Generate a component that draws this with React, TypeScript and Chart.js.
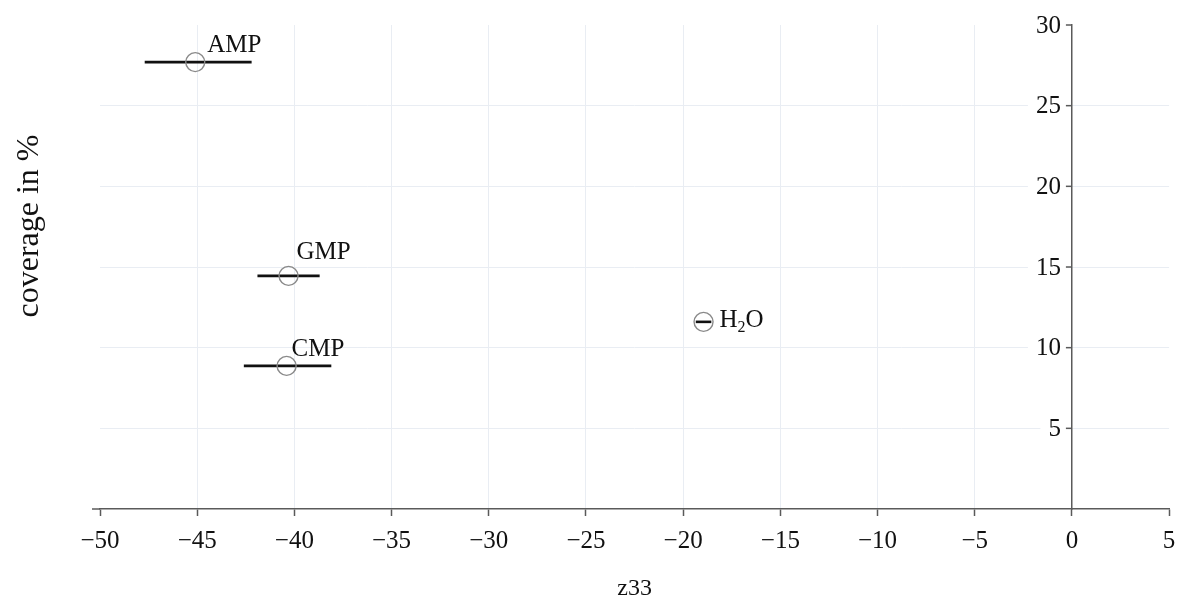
import { useEffect, useRef } from "react";
import { Chart, registerables } from "chart.js";

Chart.register(...registerables);

// Adsorbate, z33 (circle) with its lower/upper range, and surface coverage
const compounds = ["AMP", "GMP", "CMP", "H2O"];
const z33Values = [-45.1, -40.3, -40.4, -18.95];
const z33Lower = [-47.7, -41.9, -42.6, -19.35];
const z33Upper = [-42.2, -38.7, -38.1, -18.55];
const coverageValues = [27.7, 14.45, 8.87, 11.6];

const xTickValues = [-50, -45, -40, -35, -30, -25, -20, -15, -10, -5, 0, 5];
const yTickValues = [5, 10, 15, 20, 25, 30];

// label placement relative to each marker (px, text baseline)
const labelOffsets: [number, number][] = [
  [12, -10],
  [8, -17],
  [5, -10],
  [16, 5],
];

const SERIF = "'Liberation Serif', 'Times New Roman', serif";
const GRID = "#e9edf3";
const AXIS = "#5a5a5a";
const TEXT = "#111";

function drawChemLabel(ctx: CanvasRenderingContext2D, text: string, x: number, y: number, size: number) {
  // digits are drawn as subscripts (H2O)
  let cx = x;
  for (const ch of text) {
    if (/[0-9]/.test(ch)) {
      ctx.font = `${Math.round(size * 0.65)}px ${SERIF}`;
      ctx.fillText(ch, cx, y + size * 0.22);
      cx += ctx.measureText(ch).width;
    } else {
      ctx.font = `${size}px ${SERIF}`;
      ctx.fillText(ch, cx, y);
      cx += ctx.measureText(ch).width;
    }
  }
}

const annotatePlugin = {
  id: "annotate",
  beforeDatasetsDraw(chart: any) {
    const { ctx, scales } = chart;
    const x = scales.x;
    const y = scales.y;
    const axisX = x.getPixelForValue(0);
    ctx.save();

    // y tick labels sit left of the axis at x = 0, on a white backdrop
    ctx.font = `25px ${SERIF}`;
    ctx.textAlign = "right";
    ctx.textBaseline = "middle";
    for (const v of yTickValues) {
      const py = y.getPixelForValue(v);
      const label = String(v);
      const w = ctx.measureText(label).width;
      const right = axisX - 11;
      ctx.fillStyle = "#fff";
      ctx.fillRect(right - w - 8, py - 13, w + 13, 26);
      ctx.fillStyle = TEXT;
      ctx.fillText(label, right, py + 1);
      ctx.strokeStyle = AXIS;
      ctx.lineWidth = 1.5;
      ctx.beginPath();
      ctx.moveTo(axisX - 6, py);
      ctx.lineTo(axisX, py);
      ctx.stroke();
    }

    // horizontal error bars
    ctx.strokeStyle = "#111";
    ctx.lineWidth = 2.6;
    for (let i = 0; i < compounds.length; i++) {
      const py = y.getPixelForValue(coverageValues[i]);
      ctx.beginPath();
      ctx.moveTo(x.getPixelForValue(z33Lower[i]), py);
      ctx.lineTo(x.getPixelForValue(z33Upper[i]), py);
      ctx.stroke();
    }
    ctx.restore();
  },
  afterDatasetsDraw(chart: any) {
    const { ctx, scales } = chart;
    const x = scales.x;
    const y = scales.y;
    ctx.save();
    ctx.fillStyle = TEXT;
    ctx.textAlign = "left";
    ctx.textBaseline = "alphabetic";
    for (let i = 0; i < compounds.length; i++) {
      const px = x.getPixelForValue(z33Values[i]) + labelOffsets[i][0];
      const py = y.getPixelForValue(coverageValues[i]) + labelOffsets[i][1];
      drawChemLabel(ctx, compounds[i], px, py, 25);
    }
    ctx.restore();
  },
  afterDraw(chart: any) {
    const { ctx, chartArea } = chart;
    ctx.save();
    // short lead-in of the x axis line left of the first tick
    ctx.strokeStyle = AXIS;
    ctx.lineWidth = 1.5;
    ctx.beginPath();
    ctx.moveTo(chartArea.left - 8, chartArea.bottom);
    ctx.lineTo(chartArea.left, chartArea.bottom);
    ctx.stroke();

    ctx.fillStyle = TEXT;
    ctx.textAlign = "center";
    ctx.textBaseline = "alphabetic";
    ctx.font = `24px ${SERIF}`;
    ctx.fillText("z33", (chartArea.left + chartArea.right) / 2, 595);

    ctx.translate(30, 226);
    ctx.rotate(-Math.PI / 2);
    ctx.textBaseline = "middle";
    ctx.font = `32px ${SERIF}`;
    ctx.fillText("coverage in %", 0, 0);
    ctx.restore();
  },
};

export default function App() {
  const canvasRef = useRef<HTMLCanvasElement | null>(null);

  useEffect(() => {
    const canvas = canvasRef.current;
    if (!canvas) return;
    const chart = new Chart(canvas, {
      type: "scatter",
      data: {
        datasets: [
          {
            label: "coverage",
            data: z33Values.map((v, i) => ({ x: v, y: coverageValues[i] })),
            pointRadius: 9.5,
            pointHoverRadius: 9.5,
            pointBorderWidth: 1.4,
            borderColor: "#8a8a8a",
            backgroundColor: "rgba(0,0,0,0)",
            showLine: false,
          },
        ],
      },
      options: {
        responsive: false,
        animation: false,
        events: [],
        layout: { padding: { left: 100, right: 7, top: 25, bottom: 0 } },
        plugins: {
          legend: { display: false },
          tooltip: { enabled: false },
        },
        scales: {
          x: {
            type: "linear",
            position: "bottom",
            min: -50,
            max: 5,
            afterBuildTicks: (scale: any) => {
              scale.ticks = xTickValues.map((v) => ({ value: v }));
            },
            afterFit: (scale: any) => {
              scale.height = 88;
              scale.paddingLeft = 0;
              scale.paddingRight = 0;
            },
            grid: {
              color: (c: any) =>
                c.tick && (c.tick.value === -50 || c.tick.value === 0 || c.tick.value === 5)
                  ? "rgba(0,0,0,0)"
                  : GRID,
              lineWidth: 1,
              tickLength: 7,
              tickColor: AXIS,
              tickWidth: 1.5,
            },
            border: { display: true, color: AXIS, width: 1.5 },
            ticks: {
              color: TEXT,
              font: { family: SERIF, size: 25 },
              padding: 10,
              maxRotation: 0,
              autoSkip: false,
              callback: (v: any) => (Number(v) < 0 ? "\u2212" + Math.abs(Number(v)) : String(v)),
            },
          },
          y: {
            type: "linear",
            position: { x: 0 },
            min: 0,
            max: 30,
            afterBuildTicks: (scale: any) => {
              scale.ticks = yTickValues.map((v) => ({ value: v }));
            },
            afterFit: (scale: any) => {
              scale.width = 0;
              scale.paddingLeft = 0;
              scale.paddingRight = 0;
              scale.paddingTop = 0;
              scale.paddingBottom = 0;
            },
            grid: {
              color: (c: any) => (c.tick && c.tick.value === 30 ? "rgba(0,0,0,0)" : GRID),
              lineWidth: 1,
              drawTicks: false,
            },
            border: { display: true, color: AXIS, width: 1.5 },
            ticks: { display: false },
          },
        },
      } as any,
      plugins: [annotatePlugin],
    });
    return () => chart.destroy();
  }, []);

  return (
    <div style={{ position: "absolute", left: 0, top: 0, width: 1180, height: 597, background: "#fff" }}>
      <canvas ref={canvasRef} width={1180} height={597} style={{ display: "block" }} />
    </div>
  );
}
